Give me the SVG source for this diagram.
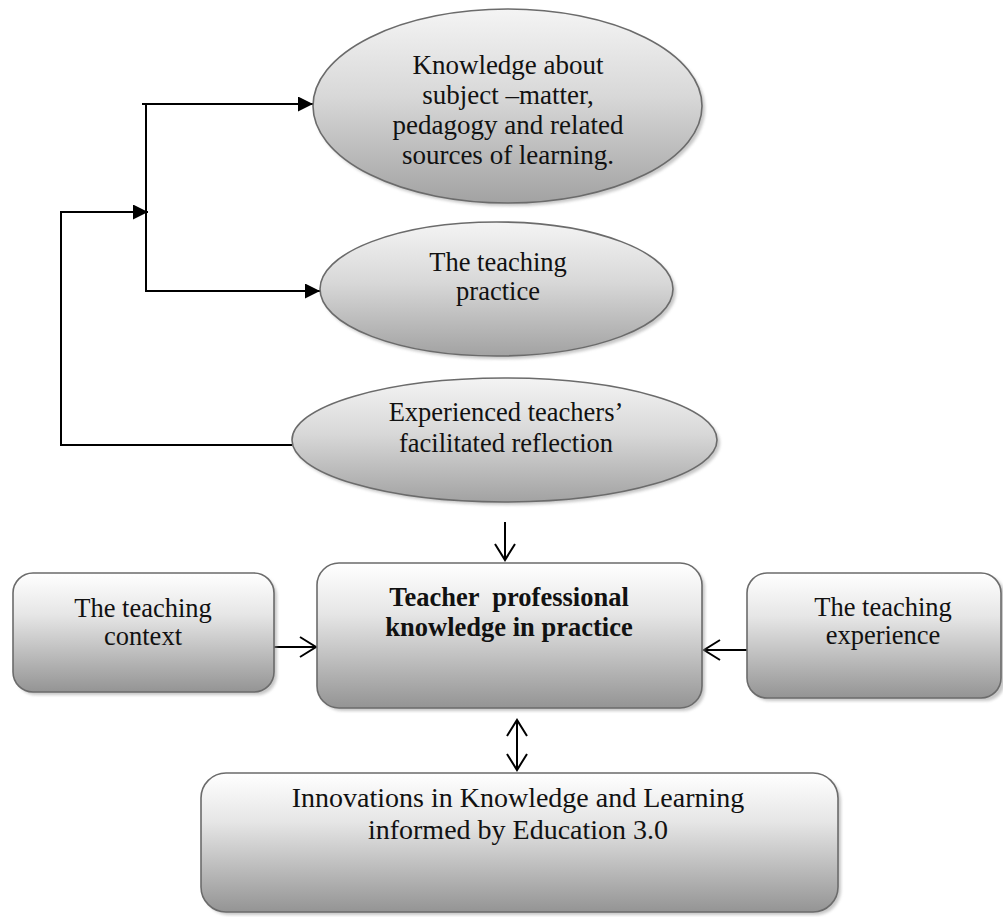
<svg xmlns="http://www.w3.org/2000/svg" width="1003" height="917" viewBox="0 0 1003 917">
<defs>
<linearGradient id="gBox" x1="0" y1="0" x2="0" y2="1">
<stop offset="0" stop-color="#ffffff"/>
<stop offset="0.35" stop-color="#e6e6e6"/>
<stop offset="1" stop-color="#949494"/>
</linearGradient>
<linearGradient id="gEll" x1="0" y1="0" x2="0" y2="1">
<stop offset="0" stop-color="#f4f4f4"/>
<stop offset="0.45" stop-color="#d8d8d8"/>
<stop offset="1" stop-color="#a2a2a2"/>
</linearGradient>
<filter id="blur" x="-10%" y="-10%" width="120%" height="120%">
<feGaussianBlur stdDeviation="1.5"/>
</filter>
<marker id="tri" markerUnits="userSpaceOnUse" markerWidth="16" markerHeight="16" refX="15" refY="7.5" orient="auto">
<path d="M0,0 L15,7.5 L0,15 Z" fill="#000"/>
</marker>
<marker id="vee" markerUnits="userSpaceOnUse" markerWidth="20" markerHeight="24" refX="17" refY="11" orient="auto-start-reverse">
<path d="M1,1 L17,11 L1,21" fill="none" stroke="#000" stroke-width="2"/>
</marker>
</defs>
<style>
.shape{stroke:#6b6b6b;stroke-width:1.6}
.box{fill:url(#gBox)}
.ell{fill:url(#gEll)}
.shadow{fill:#9a9a9a;opacity:0.55;filter:url(#blur)}
.t{font-family:"Liberation Serif","Times New Roman",serif;font-size:26.5px;fill:#111;text-anchor:middle}
.k{font-size:27px}
.big{font-size:28px}
.b{font-weight:bold}
.c{fill:none;stroke:#000;stroke-width:2}
</style>
<rect width="1003" height="917" fill="#fff"/>

<g id="connectors">
<path class="c" d="M142,104 L313,104" marker-end="url(#tri)"/>
<path class="c" d="M146,104 L146,291 L320,291" marker-end="url(#tri)"/>
<path class="c" d="M292,445 L61,445 L61,212 L148,212" marker-end="url(#tri)"/>
<path class="c" d="M505,522 L505,560" marker-end="url(#vee)"/>
<path class="c" d="M274,647 L316,647" marker-end="url(#vee)"/>
<path class="c" d="M747,650 L704,650" marker-end="url(#vee)"/>
<path class="c" d="M517,720 L517,770" marker-start="url(#vee)" marker-end="url(#vee)"/>
</g>

<g id="node-knowledge">
<ellipse class="shadow" cx="510" cy="109" rx="195" ry="97"/>
<ellipse class="shape ell" cx="507.5" cy="106" rx="194.5" ry="97"/>
<text class="t k" x="508" y="74">Knowledge about</text>
<text class="t k" x="508" y="104">subject –matter,</text>
<text class="t k" x="508" y="134">pedagogy and related</text>
<text class="t k" x="508" y="164">sources of learning.</text>
</g>

<g id="node-practice">
<ellipse class="shadow" cx="499" cy="292" rx="177" ry="67"/>
<ellipse class="shape ell" cx="496.5" cy="289" rx="176.5" ry="67"/>
<text class="t" x="498" y="271">The teaching</text>
<text class="t" x="498" y="300">practice</text>
</g>

<g id="node-reflection">
<ellipse class="shadow" cx="507" cy="443" rx="213" ry="62"/>
<ellipse class="shape ell" cx="504.5" cy="440" rx="212.5" ry="62"/>
<text class="t" x="506" y="421">Experienced teachers’</text>
<text class="t" x="506" y="452">facilitated reflection</text>
</g>

<g id="node-context">
<rect class="shadow" x="16" y="576" width="261" height="119" rx="20"/>
<rect class="shape box" x="13" y="573" width="261" height="119" rx="20"/>
<text class="t" x="143" y="617">The teaching</text>
<text class="t" x="143" y="645">context</text>
</g>

<g id="node-main">
<rect class="shadow" x="320" y="566" width="385" height="145" rx="22"/>
<rect class="shape box" x="317" y="563" width="385" height="145" rx="22"/>
<text class="t b" x="509" y="606" xml:space="preserve">Teacher  professional</text>
<text class="t b" x="509" y="636">knowledge in practice</text>
</g>

<g id="node-experience">
<rect class="shadow" x="750" y="576" width="255" height="125" rx="20"/>
<rect class="shape box" x="747" y="573" width="254" height="125" rx="20"/>
<text class="t" x="883" y="616">The teaching</text>
<text class="t" x="883" y="644">experience</text>
</g>

<g id="node-innovations">
<rect class="shadow" x="204" y="776" width="637" height="139" rx="25"/>
<rect class="shape box" x="201" y="773" width="637" height="139" rx="25"/>
<text class="t big" x="518" y="807">Innovations in Knowledge and Learning</text>
<text class="t big" x="518" y="839">informed by Education 3.0</text>
</g>
</svg>
